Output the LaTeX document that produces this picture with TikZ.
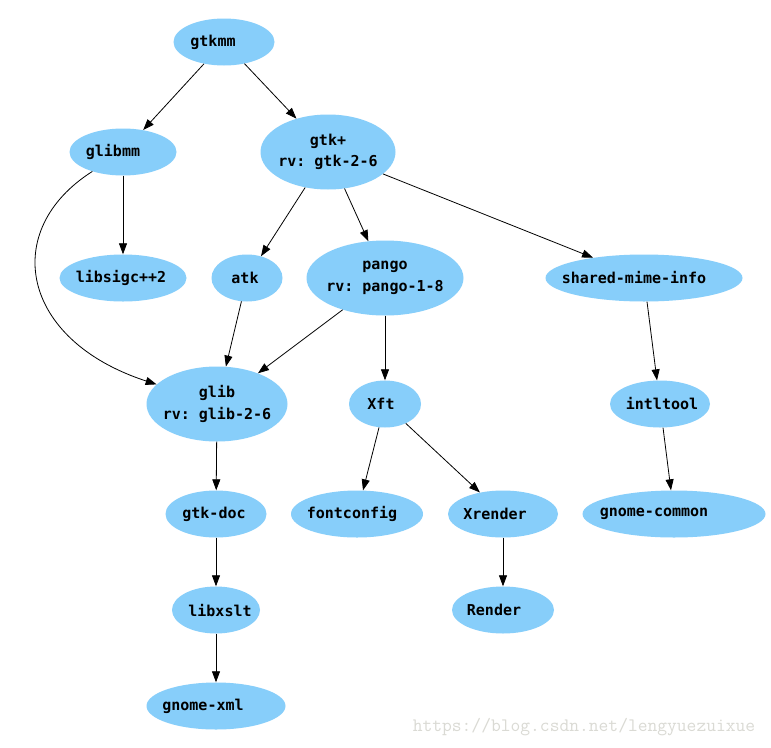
\documentclass[tikz,border=0pt]{standalone}
\usepackage{fontspec}
\usepackage{tikz}
\usepackage{xcolor}
\usetikzlibrary{shapes.geometric,arrows.meta}
\newfontfamily\pkgfont{DejaVu Sans Mono}
\definecolor{skyblue}{RGB}{135,206,250}
\definecolor{markgray}{RGB}{218,218,212}
\tikzset{
    pkg-node/.style = {ellipse, fill=skyblue, inner xsep=-20pt, inner ysep=0pt, minimum height=47pt, font=\pkgfont\bfseries\frenchspacing\fontsize{15}{21.5}\selectfont},
    pkg-node-rv/.style = {pkg-node, minimum height=75pt, align=center},
    text-shift/.style = {execute at begin node={\hspace*{#1}}},
    dep-edge/.style = {-{Triangle[length=11pt, width=8pt]}, line width=0.8pt},
}

\begin{document}
\begin{tikzpicture}[x=1pt, y=-1pt]
\path[fill=white] (0,0) rectangle (771,747);
\useasboundingbox (0,0) rectangle (771,747);

% packages
\node[pkg-node, minimum width=101pt, text-shift=-22pt] (gtkmm) at (224,42) {gtkmm};
\node[pkg-node, minimum width=107pt, text-shift=-20pt] (glibmm) at (123,152) {glibmm};
\node[pkg-node-rv, minimum width=135pt] (gtk) at (328,152) {gtk+\\rv: gtk-2-6};
\node[pkg-node, minimum width=127pt, text-shift=-4pt] (sigc) at (123,278) {libsigc++2};
\node[pkg-node, minimum width=71pt, text-shift=-4pt] (atk) at (247,278) {atk};
\node[pkg-node-rv, minimum width=157pt] (pango) at (385,278) {pango\\rv: pango-1-8};
\node[pkg-node, minimum width=197pt, text-shift=-20pt] (mime) at (644,278) {shared-mime-info};
\node[pkg-node-rv, minimum width=141pt] (glib) at (217,404) {glib\\rv: glib-2-6};
\node[pkg-node, minimum width=72pt, text-shift=-8pt] (xft) at (385,404) {Xft};
\node[pkg-node, minimum width=100pt, text-shift=4pt] (intltool) at (660,404) {intltool};
\node[pkg-node, minimum width=101pt, text-shift=-4pt] (gtkdoc) at (216,514) {gtk-doc};
\node[pkg-node, minimum width=132pt, text-shift=-10pt] (fontconfig) at (357,514) {fontconfig};
\node[pkg-node, minimum width=110pt, text-shift=-16pt] (xrender) at (503,514) {Xrender};
\node[pkg-node, minimum width=183pt, text-shift=-40pt] (common) at (674,514) {gnome-common};
\node[pkg-node, minimum width=88pt, text-shift=8pt] (xslt) at (216,610) {libxslt};
\node[pkg-node, minimum width=102pt, text-shift=-18pt] (render) at (503,610) {Render};
\node[pkg-node, minimum width=139pt, text-shift=-26pt] (xml) at (216,706) {gnome-xml};

% dependencies
\draw[dep-edge] (gtkmm) -- (glibmm);
\draw[dep-edge] (gtkmm) -- (gtk);
\draw[dep-edge] (glibmm) -- (sigc);
\draw[dep-edge] (glibmm) .. controls (0,230) and (20,340) .. (glib);
\draw[dep-edge] (gtk) -- (atk);
\draw[dep-edge] (gtk) -- (pango);
\draw[dep-edge] (gtk) -- (mime);
\draw[dep-edge] (atk) -- (glib);
\draw[dep-edge] (pango) -- (glib);
\draw[dep-edge] (pango) -- (xft);
\draw[dep-edge] (mime) -- (intltool);
\draw[dep-edge] (glib) -- (gtkdoc);
\draw[dep-edge] (xft) -- (fontconfig);
\draw[dep-edge] (xft) -- (xrender);
\draw[dep-edge] (intltool) -- (common);
\draw[dep-edge] (gtkdoc) -- (xslt);
\draw[dep-edge] (xslt) -- (xml);
\draw[dep-edge] (xrender) -- (render);

\node[text=markgray, font=\ttfamily\fontsize{19}{19}\selectfont] (mark) at (584,727) {https://blog.csdn.net/lengyuezuixue};
\end{tikzpicture}
\end{document}
